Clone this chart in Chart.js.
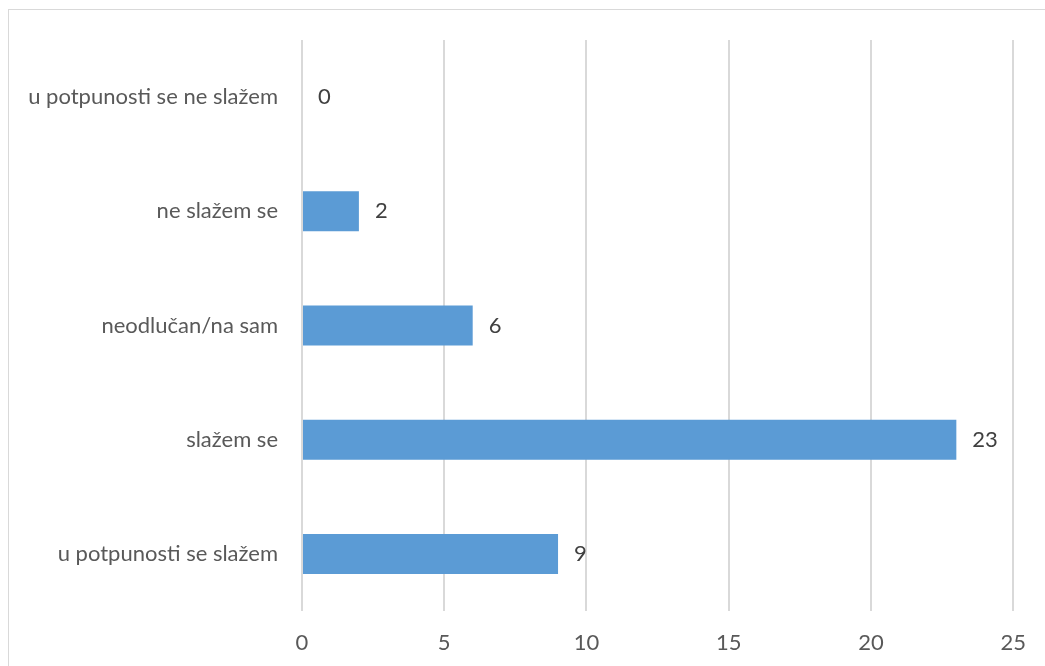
<!DOCTYPE html>
<html>
<head>
<meta charset="utf-8">
<script src="https://cdn.jsdelivr.net/npm/chart.js@4.4.0/dist/chart.umd.min.js"></script>
<style>
    html, body { margin: 0; padding: 0; background: #fff; overflow: hidden; }
    #wrap { position: relative; width: 1045px; height: 666px; }
    #frame { position: absolute; left: 8px; top: 9px; width: 1100px; height: 700px; border: 1px solid #d9d9d9; box-sizing: border-box; }
    canvas { position: absolute; left: 0; top: 0; }
</style>
</head>
<body>
<div id="wrap">
    <div id="frame"></div>
    <canvas id="chart" width="1045" height="666"></canvas>
</div>
<script>
const categories = ['u potpunosti se ne slažem', 'ne slažem se', 'neodlučan/na sam', 'slažem se', 'u potpunosti se slažem'];
const values = [0, 2, 6, 23, 9];
const xTicks = [0, 5, 10, 15, 20, 25];

const fontFamily = 'Lato, "Open Sans", sans-serif';
const fontSize = 22;

// value labels to the right of each bar
const valueLabels = {
    id: 'valueLabels',
    afterDatasetsDraw(chart) {
        const ctx = chart.ctx;
        const meta = chart.getDatasetMeta(0);
        ctx.save();
        ctx.font = fontSize + 'px ' + fontFamily;
        ctx.fillStyle = '#404040';
        ctx.textAlign = 'left';
        ctx.textBaseline = 'middle';
        meta.data.forEach((bar, i) => {
            ctx.fillText(String(values[i]), bar.x + 16, bar.y);
        });
        ctx.restore();
    }
};

new Chart(document.getElementById('chart'), {
    type: 'bar',
    data: {
        labels: categories,
        datasets: [{ data: values, backgroundColor: '#5b9bd5', barPercentage: 0.35, categoryPercentage: 1 }]
    },
    options: {
        indexAxis: 'y',
        responsive: false,
        animation: false,
        layout: { padding: { top: 40, right: 28, left: 0, bottom: 0 } },
        scales: {
            x: {
                min: 0, max: 25,
                afterBuildTicks: (scale) => { scale.ticks = xTicks.map(v => ({ value: v })); },
                afterFit: (scale) => { scale.height = 55; },
                grid: { color: '#d9d9d9', lineWidth: 2, drawTicks: false },
                border: { display: false },
                ticks: { color: '#595959', font: { family: fontFamily, size: fontSize }, padding: 19 }
            },
            y: {
                afterFit: (scale) => { scale.width = 302; },
                grid: { display: false, drawTicks: false },
                border: { display: false },
                ticks: { color: '#595959', font: { family: fontFamily, size: fontSize }, padding: 24 }
            }
        },
        plugins: { legend: { display: false }, tooltip: { enabled: false } }
    },
    plugins: [valueLabels]
});
</script>
</body>
</html>
